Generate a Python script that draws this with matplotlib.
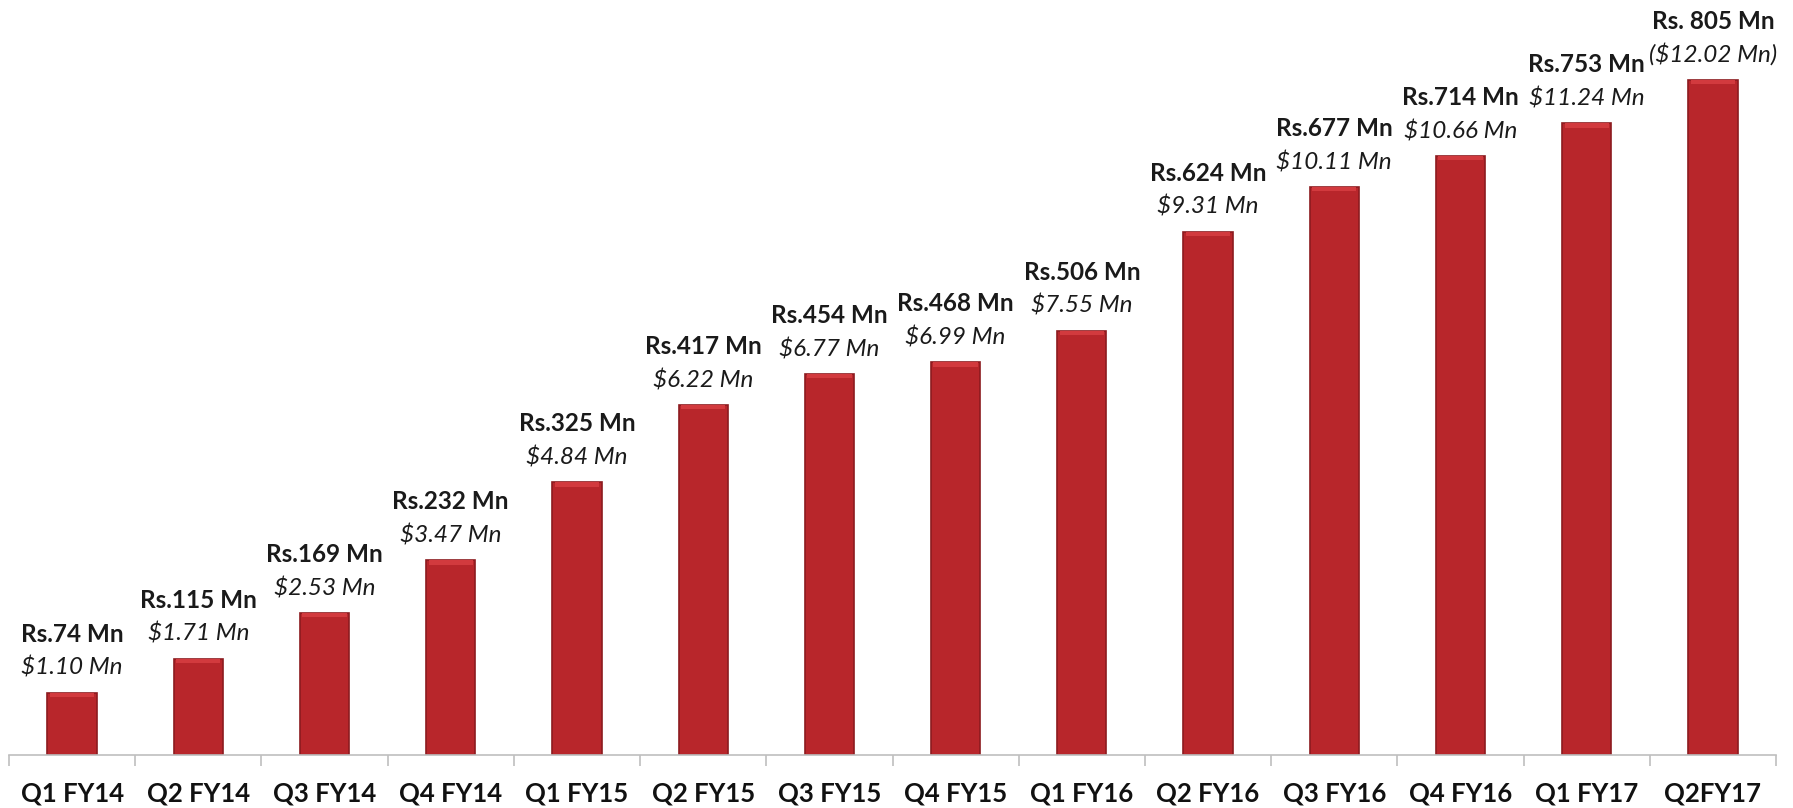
import matplotlib
matplotlib.use("Agg")
import matplotlib.pyplot as plt
import numpy as np

categories = ["Q1 FY14", "Q2 FY14", "Q3 FY14", "Q4 FY14", "Q1 FY15", "Q2 FY15", "Q3 FY15",
              "Q4 FY15", "Q1 FY16", "Q2 FY16", "Q3 FY16", "Q4 FY16", "Q1 FY17", "Q2FY17"]
revenue_rs = [74, 115, 169, 232, 325, 417, 454, 468, 506, 624, 677, 714, 753, 805]
rs_labels = ["Rs.74 Mn", "Rs.115 Mn", "Rs.169 Mn", "Rs.232 Mn", "Rs.325 Mn", "Rs.417 Mn",
             "Rs.454 Mn", "Rs.468 Mn", "Rs.506 Mn", "Rs.624 Mn", "Rs.677 Mn", "Rs.714 Mn",
             "Rs.753 Mn", "Rs. 805 Mn"]
usd_labels = ["$1.10 Mn", "$1.71 Mn", "$2.53 Mn", "$3.47 Mn", "$4.84 Mn", "$6.22 Mn",
              "$6.77 Mn", "$6.99 Mn", "$7.55 Mn", "$9.31 Mn", "$10.11 Mn", "$10.66 Mn",
              "$11.24 Mn", "($12.02 Mn)"]

plt.rcParams['font.family'] = ['Lato', 'DejaVu Sans']

W, H = 1793, 808
fig = plt.figure(figsize=(W / 100, H / 100), dpi=100)
ax_left = 9 / W
ax_right = 1776 / W
ax_bottom = (H - 755) / H
ax = fig.add_axes([ax_left, ax_bottom, ax_right - ax_left, 1 - ax_bottom])

x = np.arange(len(categories))
bw = 0.39
fill = "#B8262B"
edge = "#8C1B1F"
ax.bar(x, revenue_rs, width=bw, color=fill, edgecolor=edge, linewidth=1.2, zorder=2)
# lighter bevel at the top of each bar
ax.bar(x, [5] * len(x), bottom=np.array(revenue_rs) - 5, width=bw * 0.9,
       color="#D23A3E", linewidth=0, zorder=3)

ax.set_xlim(-0.5, len(categories) - 0.5)
ax.set_ylim(0, 900)

for i, v in enumerate(revenue_rs):
    ax.annotate(usd_labels[i], (i, v), xytext=(0, 18), textcoords="offset pixels",
                ha="center", va="baseline", fontsize=17.5, style="italic", color="#1a1a1a")
    ax.annotate(rs_labels[i], (i, v), xytext=(0, 51), textcoords="offset pixels",
                ha="center", va="baseline", fontsize=17.5, fontweight="bold", color="#1a1a1a")

for s in ["top", "right", "left"]:
    ax.spines[s].set_visible(False)
ax.spines["bottom"].set_color("#BFBFBF")
ax.spines["bottom"].set_linewidth(1.2)
ax.set_yticks([])
ax.set_xticks(x)
ax.set_xticklabels(categories, fontsize=18.5, fontweight="bold", color="#111111")
ax.tick_params(axis="x", length=0, pad=19)
ax.set_xticks(np.arange(-0.5, len(categories)), minor=True)
ax.tick_params(axis="x", which="minor", length=8, width=1.2, color="#BFBFBF")

fig.savefig("out.png", dpi=100)
